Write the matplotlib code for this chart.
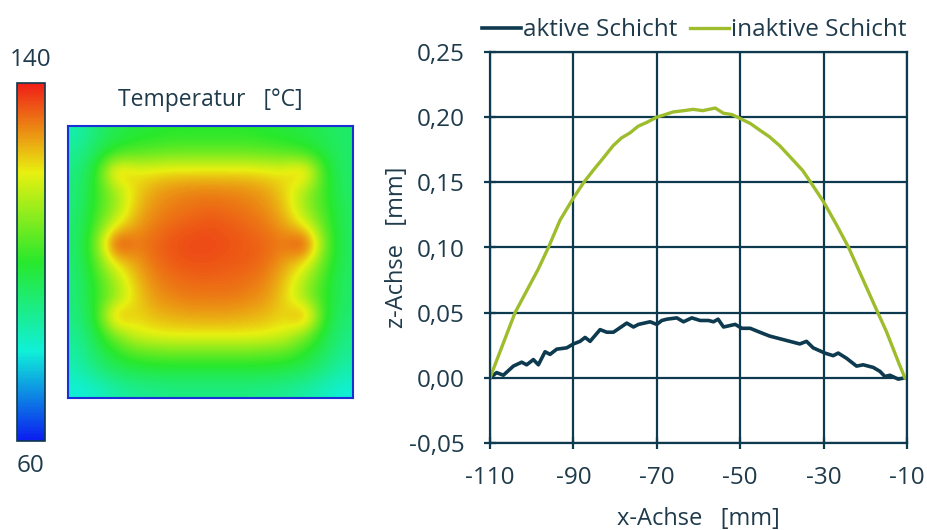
import matplotlib
matplotlib.use("Agg")
import matplotlib.pyplot as plt
from matplotlib.colors import LinearSegmentedColormap
import numpy as np

plt.rcParams['font.family'] = ['Open Sans', 'DejaVu Sans']

# line profiles
x_aktiv = [-110, -108.4, -106.8, -104.4, -102.4, -101.2, -99.6, -98.4, -96.8, -95.6,
           -94.0, -91.6, -90.0, -88.4, -87.2, -86.0, -83.6, -82.0, -80.4, -77.2,
           -75.6, -74.4, -71.6, -70.0, -68.8, -67.6, -65.2, -63.6, -61.6, -59.6,
           -57.6, -56.4, -55.3, -54.0, -51.2, -49.6, -47.6, -45.3, -42.9, -40.5,
           -38.1, -35.7, -34.1, -32.5, -29.7, -27.7, -26.5, -24.5, -22.1, -20.5,
           -18.1, -16.5, -15.3, -14.1, -12.1, -10.5]
z_aktiv = [0.000, 0.004, 0.002, 0.009, 0.012, 0.010, 0.014, 0.010, 0.020, 0.018,
           0.022, 0.023, 0.026, 0.028, 0.031, 0.028, 0.037, 0.035, 0.035, 0.042,
           0.039, 0.041, 0.043, 0.041, 0.044, 0.045, 0.046, 0.043, 0.046, 0.044,
           0.044, 0.043, 0.045, 0.039, 0.041, 0.038, 0.038, 0.035, 0.032, 0.030,
           0.028, 0.026, 0.028, 0.023, 0.019, 0.017, 0.019, 0.015, 0.009, 0.010,
           0.008, 0.005, 0.001, 0.002, -0.001, 0.000]

x_inaktiv = [-110, -107, -104, -101, -98.5, -96, -93.2, -90, -87.5, -85.3, -83, -80.5,
             -78.5, -76.4, -74.5, -72.4, -70, -68, -66.1, -63.5, -61.3, -59, -56, -54,
             -52, -50, -47.5, -45.3, -43, -40.5, -37.3, -35, -33.3, -30, -27, -24,
             -20.5, -17, -15, -13.4, -11.8, -10.5]
z_inaktiv = [0.000, 0.025, 0.050, 0.068, 0.083, 0.100, 0.121, 0.138, 0.150, 0.159,
             0.168, 0.178, 0.184, 0.188, 0.193, 0.196, 0.200, 0.202, 0.204, 0.205,
             0.206, 0.205, 0.207, 0.203, 0.202, 0.199, 0.195, 0.190, 0.185, 0.178,
             0.167, 0.159, 0.151, 0.135, 0.118, 0.100, 0.075, 0.050, 0.036, 0.023,
             0.010, 0.000]

x_ticks = [-110, -90, -70, -50, -30, -10]
y_ticks = [-0.05, 0.00, 0.05, 0.10, 0.15, 0.20, 0.25]

# temperature field (°C), rows top -> bottom
temp_grid = [
    [85, 92, 96, 98, 99, 100, 100, 100, 100, 100, 99, 98, 97, 95, 93],
    [88, 95, 102, 105, 106, 107, 107, 107, 107, 107, 106, 105, 102, 97, 93],
    [90, 100, 128, 121, 121, 122, 122, 122, 122, 122, 121, 121, 128, 101, 93],
    [91, 101, 113, 122, 127, 129, 130, 130, 130, 129, 127, 122, 113, 102, 93],
    [91, 102, 111, 124, 129, 131, 132, 133, 132, 131, 129, 124, 111, 103, 94],
    [92, 104, 120, 127, 131, 133, 134, 135, 134, 133, 131, 127, 120, 105, 94],
    [92, 108, 140, 131, 133, 135, 136, 136, 135, 134, 133, 131, 140, 108, 94],
    [92, 105, 122, 127, 132, 134, 135, 135, 134, 134, 132, 127, 122, 105, 94],
    [91, 102, 113, 124, 130, 132, 133, 133, 133, 132, 130, 124, 113, 102, 93],
    [91, 101, 111, 122, 128, 130, 131, 131, 131, 130, 128, 122, 111, 101, 93],
    [90, 100, 130, 122, 125, 126, 127, 127, 127, 126, 125, 122, 132, 100, 92],
    [88, 97, 109, 118, 120, 121, 121, 121, 121, 121, 120, 118, 109, 97, 90],
    [86, 94, 100, 105, 106, 107, 107, 107, 107, 107, 106, 105, 100, 94, 88],
    [84, 90, 94, 96, 97, 97, 97, 97, 97, 97, 97, 96, 94, 90, 85],
    [80, 82, 86, 88, 89, 90, 90, 90, 90, 90, 89, 88, 86, 83, 80],
]
t_min, t_max = 60, 140

navy = '#0d3a4f'
green = '#9dbd2d'
txt = '#1f3b4b'

rainbow = LinearSegmentedColormap.from_list(
    'thermo', ['#0b1cf0', '#10f0d8', '#28e82c', '#e8f010', '#f01e18'])

fig = plt.figure(figsize=(9.28, 5.30), dpi=100)

# heat map
ax_h = fig.add_axes([68/928, 132/530, 285/928, 272/530])
im = ax_h.imshow(np.array(temp_grid), cmap=rainbow, vmin=t_min, vmax=t_max,
                 interpolation='bicubic', aspect='auto')
ax_h.set_xticks([])
ax_h.set_yticks([])
for s in ax_h.spines.values():
    s.set_color('#1b2fd6')
    s.set_linewidth(1.5)
fig.text(210/928, 1 - 100/530, 'Temperatur   [°C]', ha='center', va='center',
         fontsize=16.5, color=txt)

# colour bar
ax_c = fig.add_axes([17/928, 89/530, 28/928, 358/530])
cb = fig.colorbar(im, cax=ax_c)
cb.set_ticks([])
cb.outline.set_edgecolor(navy)
cb.outline.set_linewidth(1.2)
fig.text(31/928, 1 - 60/530, '140', ha='center', va='center', fontsize=17.5, color=txt)
fig.text(31/928, 1 - 466/530, '60', ha='center', va='center', fontsize=17.5, color=txt)

# line chart
ax = fig.add_axes([490/928, 87/530, 417/928, 391/530])
ax.plot(x_aktiv, z_aktiv, color=navy, lw=2.6, label='aktive Schicht')
ax.plot(x_inaktiv, z_inaktiv, color=green, lw=2.4, label='inaktive Schicht')
ax.set_xlim(-110, -10)
ax.set_ylim(-0.05, 0.25)
ax.set_xticks(x_ticks)
ax.set_yticks(y_ticks)
ax.set_xticklabels([str(v) for v in x_ticks])
ax.set_yticklabels([f'{v:.2f}'.replace('.', ',') for v in y_ticks])
ax.grid(True, color=navy, lw=1.6)
ax.set_axisbelow(True)
for s in ax.spines.values():
    s.set_color(navy)
    s.set_linewidth(1.6)
ax.tick_params(direction='inout', length=9, width=1.6, color=navy,
               labelsize=17.5, labelcolor=txt)
ax.tick_params(axis='x', pad=12)
ax.tick_params(axis='y', pad=14)
ax.set_xlabel('x-Achse   [mm]', fontsize=17, color=txt)
ax.set_ylabel('z-Achse   [mm]', fontsize=17, color=txt)
ax.xaxis.set_label_coords(0.5, -0.163)
ax.yaxis.set_label_coords(-0.195, 0.5)
ax.legend(loc='lower center', bbox_to_anchor=(0.49, 1.0), ncol=2, frameon=False,
          fontsize=17.5, labelcolor=txt, handlelength=1.6, handletextpad=0.1,
          columnspacing=0.5, borderaxespad=0.0)

fig.savefig('out.png', dpi=100)
